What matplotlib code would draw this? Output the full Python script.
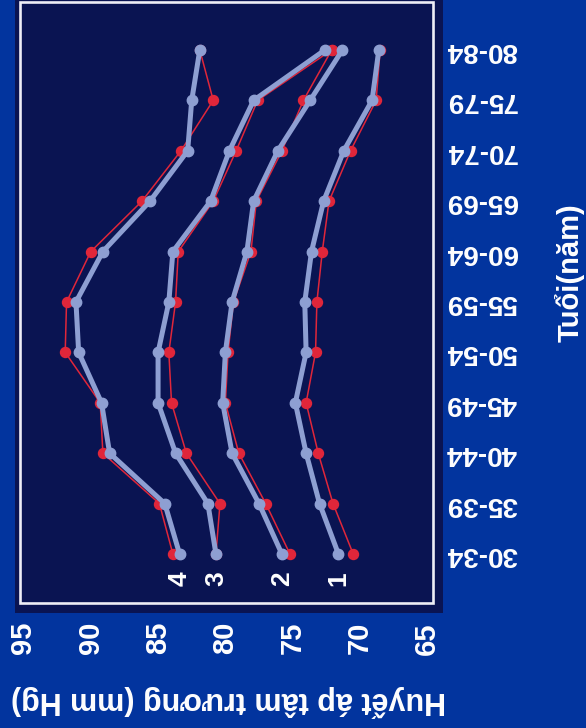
import numpy as np
import matplotlib
matplotlib.use("Agg")
import matplotlib.pyplot as plt
from matplotlib.patches import Rectangle

plt.rcParams['font.family'] = ['Liberation Sans', 'DejaVu Sans']
plt.rcParams['font.weight'] = 'bold'

# age groups, bottom to top
ages = ["30-34", "35-39", "40-44", "45-49", "50-54", "55-59",
        "60-64", "65-69", "70-74", "75-79", "80-84"]
bp_ticks = [95, 90, 85, 80, 75, 70, 65]
series_names = ["1", "2", "3", "4"]

# observed values (red) and smoothed values (grey), mm Hg
obs_1 = [70.5, 72.0, 73.1, 74.0, 73.3, 73.2, 72.8, 72.3, 70.7, 68.8, 68.5]
fit_1 = [71.6, 73.0, 74.0, 74.8, 74.0, 74.1, 73.6, 72.7, 71.2, 69.1, 68.6]
obs_2 = [75.2, 77.0, 79.0, 80.0, 79.8, 79.4, 78.1, 77.7, 75.8, 74.2, 72.1]
fit_2 = [75.8, 77.5, 79.5, 80.2, 80.0, 79.5, 78.4, 77.9, 76.1, 73.7, 71.3]
obs_3 = [80.7, 80.4, 82.9, 84.0, 84.2, 83.7, 83.5, 80.9, 79.2, 77.6, 72.1]
fit_3 = [80.7, 81.3, 83.7, 85.0, 85.0, 84.2, 83.9, 81.1, 79.7, 77.9, 72.6]
obs_4 = [83.9, 84.9, 89.1, 89.3, 91.9, 91.8, 90.0, 86.2, 83.3, 80.9, 81.9]
fit_4 = [83.4, 84.5, 88.6, 89.2, 90.9, 91.1, 89.1, 85.6, 82.8, 82.5, 81.9]

observed = [obs_1, obs_2, obs_3, obs_4]
fitted = [fit_1, fit_2, fit_3, fit_4]

BG = "#02349E"
NAVY = "#0A1452"
RED = "#E0263A"
GREY = "#8E9FD2"

fig = plt.figure(figsize=(5.86, 7.28), dpi=100, facecolor=BG)
ax = fig.add_axes([15 / 586, (728 - 613) / 728, 428 / 586, 619 / 728])
ax.set_facecolor(NAVY)
for s in ax.spines.values():
    s.set_visible(False)

rows = np.arange(len(ages))
for name, obs, fit in zip(series_names, observed, fitted):
    ax.plot(obs, rows, color=RED, lw=1.1, marker='o', ms=7.2, zorder=2)
    ax.plot(fit, rows, color=GREY, lw=3.6, marker='o', ms=7.5, zorder=3)
    ax.text(fit[0], -0.48, name, rotation=90, ha='center', va='center',
            color='white', fontsize=19, fontweight='bold')

ax.set_xlim(95.63, 63.83)
ax.set_ylim(-1.17, 11.11)

ax.set_xticks(bp_ticks)
ax.set_xticklabels([str(t) for t in bp_ticks], rotation=90)
ax.tick_params(axis='x', length=0, pad=6.5, labelsize=21, labelcolor='white')

ax.set_yticks(rows)
ax.set_yticklabels(ages, rotation=180, va='center')
ax.yaxis.tick_right()
ax.tick_params(axis='y', length=0, pad=2, labelsize=20, labelcolor='white')

ax.add_patch(Rectangle((0.0128, 0.0162), 0.965, 0.971, transform=ax.transAxes,
                       fill=False, ec='#EEEEF6', lw=1.9, zorder=1))

ax.set_xlabel("Huyết áp tâm trương (mm Hg)", rotation=180, color='white',
              fontsize=22, fontweight='bold', labelpad=22)
fig.text(570 / 586, 1 - 273 / 728, "Tuổi(năm)", rotation=90, ha='center',
         va='center', color='white', fontsize=21, fontweight='bold')

fig.savefig("out.png", dpi=100, facecolor=BG)
